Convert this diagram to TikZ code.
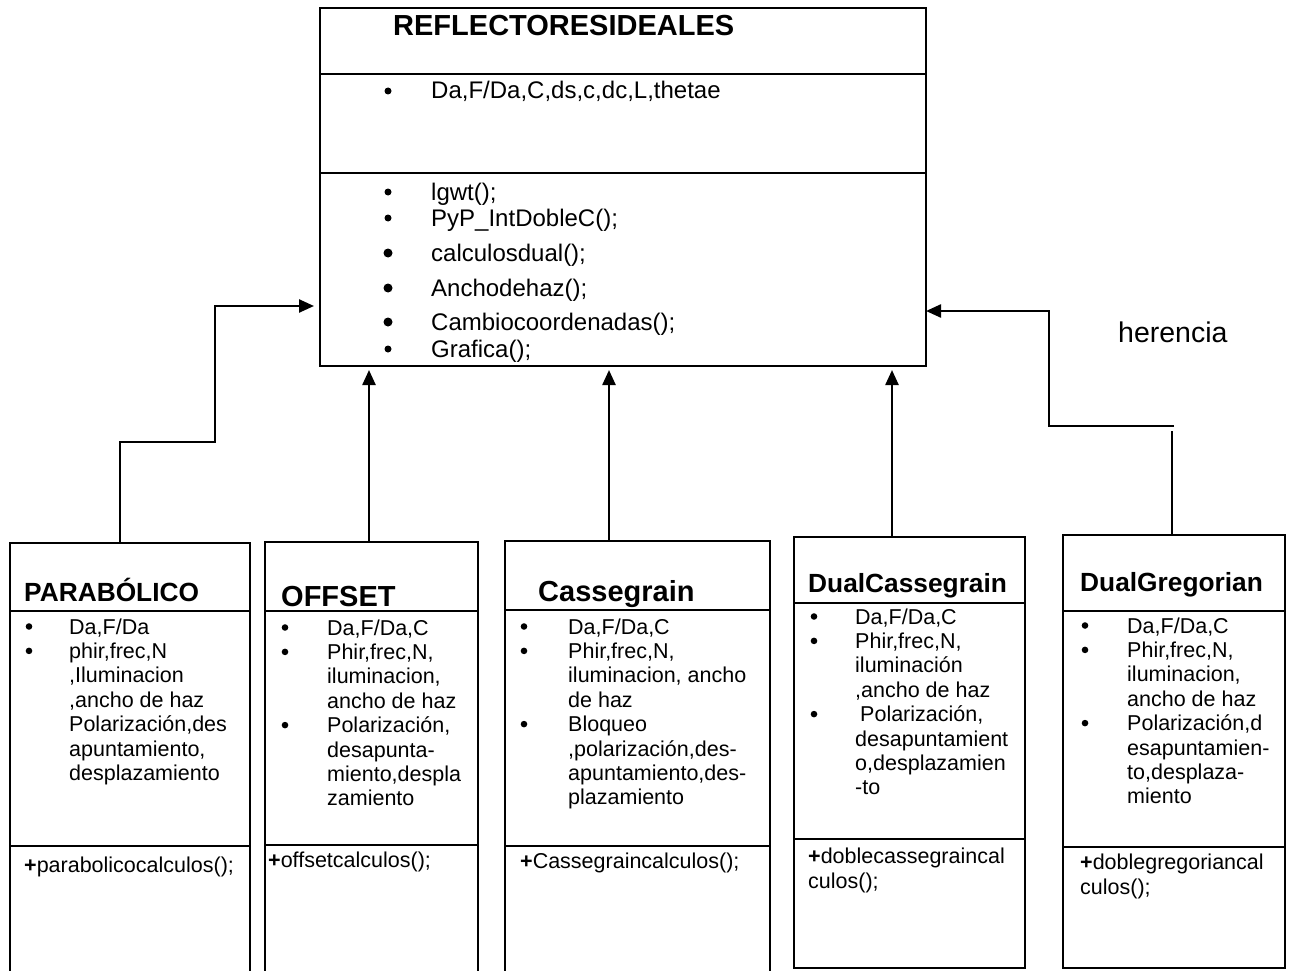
\documentclass[tikz,border=0pt]{standalone}
\usepackage{fontspec}
\setmainfont{Liberation Sans}
\usetikzlibrary{arrows.meta}
\begin{document}
\begin{tikzpicture}[x=1pt,y=-1pt,
  box/.style={draw,line width=2.6pt,anchor=north west,inner sep=0pt,outer sep=0pt},
  sepline/.style={line width=2.6pt},
  conn/.style={line width=2.4pt},
  inh/.style={conn,-{Triangle[length=15pt,width=13pt]}},
  txt/.style={anchor=base west,inner sep=0pt,font=\fontsize{21.5}{24}\selectfont},
  toptxt/.style={anchor=base west,inner sep=0pt,font=\fontsize{24}{28}\selectfont},
  ttl/.style={anchor=base west,inner sep=0pt,font=\bfseries\fontsize{26.3}{30}\selectfont},
  ttlb/.style={anchor=base west,inner sep=0pt,font=\bfseries\fontsize{29}{32}\selectfont},
]
\useasboundingbox (0,0) rectangle (1293,971);
\fill[white] (0,0) rectangle (1293,971);

% ---------- top class ----------
\node[box,minimum width=606pt,minimum height=358pt] (top) at (320,8) {};
\draw[sepline] (320,74) -- (926,74);
\draw[sepline] (320,173) -- (926,173);
\node[ttlb] (ttop) at (393,36) {REFLECTORESIDEALES};
\fill (388,91) circle (3.5pt);
\node[toptxt] (ta0) at (431,99) {Da,F/Da,C,ds,c,dc,L,thetae};
\fill (388,192) circle (3.5pt);
\node[toptxt] (tm1) at (431,200) {lgwt();};
\fill (388,218) circle (3.5pt);
\node[toptxt] (tm2) at (431,226) {PyP\_IntDobleC();};
\fill (388,253) circle (4.5pt);
\node[toptxt] (tm3) at (431,261) {calculosdual();};
\fill (388,288) circle (4.5pt);
\node[toptxt] (tm4) at (431,296) {Anchodehaz();};
\fill (388,322) circle (4.5pt);
\node[toptxt] (tm5) at (431,330) {Cambiocoordenadas();};
\fill (388,349) circle (3.5pt);
\node[toptxt] (tm6) at (431,357) {Grafica();};

\node[anchor=base west,inner sep=0pt,font=\fontsize{28.5}{30}\selectfont] (her) at (1118,342) {herencia};

% ---------- box 1 ----------
\node[box,minimum width=240pt,minimum height=460pt] (p1) at (10,543) {};
\draw[sepline] (10,611) -- (250,611);
\draw[sepline] (10,846) -- (250,846);
\node[ttl] (n1) at (24,601) {PARABÓLICO};
\foreach \s [count=\i from 0] in {{Da,F/Da},{phir,frec,N},{,Iluminacion},{,ancho de haz},{Polarización,des},{apuntamiento,},{desplazamiento}}
  \node[txt] (b1t\i) at (69,{634+24.4*\i}) {\s};
\fill (29,626.5) circle (3.3pt);
\fill (29,650.9) circle (3.3pt);
\node[txt] (m1) at (24,872) {\textbf{+}parabolicocalculos();};

% ---------- box 2 ----------
\node[box,minimum width=213pt,minimum height=460pt] (p2) at (265,542) {};
\draw[sepline] (265,611) -- (478,611);
\draw[sepline] (265,845) -- (478,845);
\node[ttlb] (n2) at (281,606) {OFFSET};
\foreach \s [count=\i from 0] in {{Da,F/Da,C},{Phir,frec,N,},{iluminacion,},{ancho de haz},{Polarización,},{desapunta-},{miento,despla},{zamiento}}
  \node[txt] (b2t\i) at (327,{635+24.4*\i}) {\s};
\fill (285,627.5) circle (3.3pt);
\fill (285,651.9) circle (3.3pt);
\fill (285,725.1) circle (3.3pt);
\node[txt] (m2) at (268,867) {\textbf{+}offsetcalculos();};

% ---------- box 3 ----------
\node[box,minimum width=265pt,minimum height=460pt] (p3) at (505,541) {};
\draw[sepline] (505,610) -- (770,610);
\draw[sepline] (505,846) -- (770,846);
\node[ttlb] (n3) at (538,601) {Cassegrain};
\foreach \s [count=\i from 0] in {{Da,F/Da,C},{Phir,frec,N,},{iluminacion, ancho},{de haz},{Bloqueo},{,polarización,des-},{apuntamiento,des-},{plazamiento}}
  \node[txt] (b3t\i) at (568,{634+24.4*\i}) {\s};
\fill (524,626.5) circle (3.3pt);
\fill (524,650.9) circle (3.3pt);
\fill (524,724.1) circle (3.3pt);
\node[txt] (m3) at (520,868) {\textbf{+}Cassegraincalculos();};

% ---------- box 4 ----------
\node[box,minimum width=231pt,minimum height=431pt] (p4) at (794,537) {};
\draw[sepline] (794,603) -- (1025,603);
\draw[sepline] (794,839) -- (1025,839);
\node[ttl] (n4) at (808,592) {DualCassegrain};
\foreach \s [count=\i from 0] in {{Da,F/Da,C},{Phir,frec,N,},{iluminación},{,ancho de haz},{\hspace*{5pt}Polarización,},{desapuntamient},{o,desplazamien},{-to}}
  \node[txt] (b4t\i) at (855,{624+24.4*\i}) {\s};
\fill (814,616.5) circle (3.3pt);
\fill (814,640.9) circle (3.3pt);
\fill (814,714.1) circle (3.3pt);
\node[txt] (m4a) at (808,863) {\textbf{+}doblecassegraincal};
\node[txt] (m4b) at (808,888) {culos();};

% ---------- box 5 ----------
\node[box,minimum width=222pt,minimum height=433pt] (p5) at (1063,535) {};
\draw[sepline] (1063,611) -- (1285,611);
\draw[sepline] (1063,847) -- (1285,847);
\node[ttl] (n5) at (1080,591) {DualGregorian};
\foreach \s [count=\i from 0] in {{Da,F/Da,C},{Phir,frec,N,},{iluminacion,},{ancho de haz},{Polarización,d},{esapuntamien-},{to,desplaza-},{miento}}
  \node[txt] (b5t\i) at (1127,{633+24.4*\i}) {\s};
\fill (1085,625.5) circle (3.3pt);
\fill (1085,649.9) circle (3.3pt);
\fill (1085,723.1) circle (3.3pt);
\node[txt] (m5a) at (1080,869) {\textbf{+}doblegregoriancal};
\node[txt] (m5b) at (1080,894) {culos();};

% ---------- connectors ----------
\coordinate (k1) at (215,442);
\draw[inh,shorten >=6pt] ([xshift=110pt]p1.north west) |- (k1) |- ([yshift=-298pt]top.north west);
\draw[inh,shorten >=4pt] ([xshift=104pt]p2.north west) -- ([xshift=49pt]top.south west);
\draw[inh,shorten >=4pt] ([xshift=104pt]p3.north west) -- ([xshift=289pt]top.south west);
\draw[inh,shorten >=4pt] ([xshift=98pt]p4.north west) -- ([xshift=572pt]top.south west);
\coordinate (k5) at (1172,431);
\coordinate (k5a) at (1174,426);
\coordinate (k5b) at (1049,311);
\draw[conn] ([xshift=109pt]p5.north west) -- (k5);
\draw[inh] (k5a) -| (k5b) -- ([yshift=-303pt]top.north east);
\end{tikzpicture}
\end{document}
